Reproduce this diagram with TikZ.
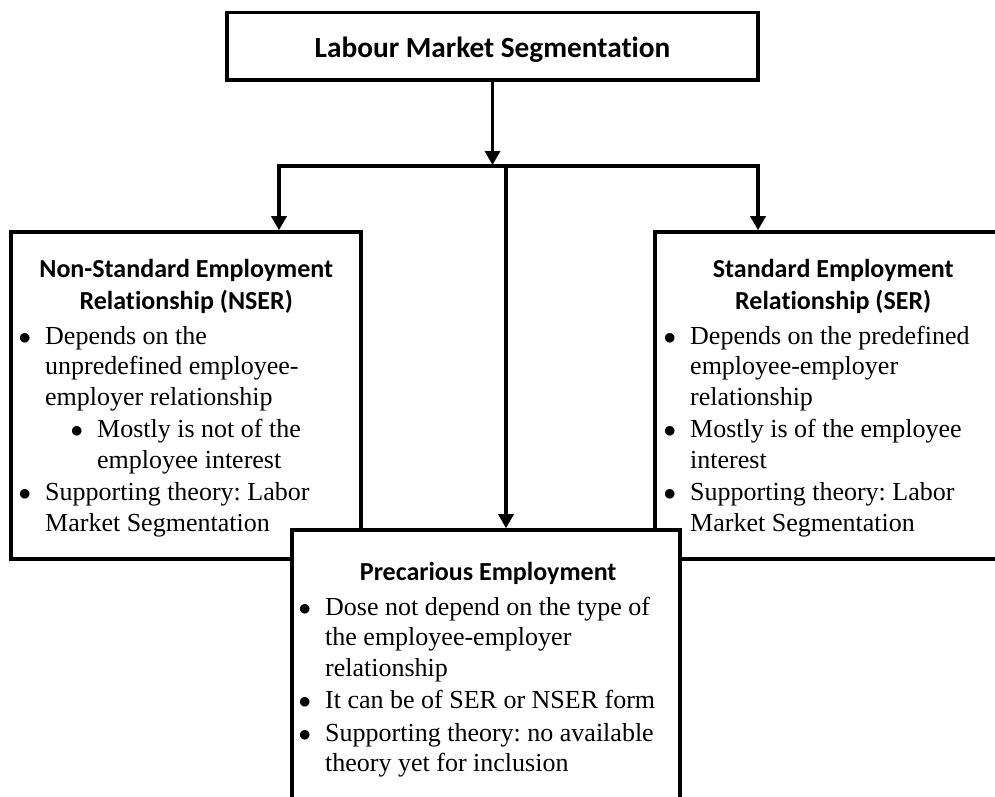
\documentclass[tikz,border=0pt]{standalone}
\usepackage{fontspec}
\setmainfont{Liberation Serif}
\newfontfamily\headfont[Ligatures=NoCommon]{Carlito}
\usetikzlibrary{arrows.meta,positioning,calc}
\frenchspacing

% Aufzaehlungspunkt mit haengendem Einzug
\newcommand{\bitem}[2][0pt]{\par\vspace{2pt}\hangindent=\dimexpr#1+24.5pt\relax\hangafter=1
  \noindent\hspace*{#1}\makebox[24.5pt][l]{\hspace{-2pt}$\bullet$}#2\par}
\newcommand{\boxtitle}[1]{{\centering\headfont\bfseries\fontsize{26}{32}\selectfont #1\par}\vspace{2.5pt}}

\begin{document}
\begin{tikzpicture}[x=1pt,y=-1pt,
  box/.style={draw,line width=3.6pt,inner sep=0pt,fill=white},
  arr/.style={line width=3.3pt,-{Triangle[width=15pt,length=14pt]}},
  conn/.style={line width=3.3pt,line cap=rect},
  bodytext/.style={anchor=base west,inner sep=0pt,align=flush left,font=\fontsize{26}{30.5}\selectfont}]
\path[use as bounding box] (0,0) rectangle (995,796);
\clip (0,0) rectangle (995,796);

%Kaesten
\node[box,minimum width=350pt,minimum height=327pt] (nser) at (186,395.5) {};
\node[box,minimum width=356pt,minimum height=327pt] (ser) at (833,395.5) {};
\node[box,minimum width=388pt,minimum height=300pt] (prec) at (486,680) {};
\node[box,minimum width=531pt,minimum height=67.3pt,text height=23.4pt,text depth=2pt,
  font=\headfont\bfseries\fontsize{29.3}{34}\selectfont] (top) at (492.5,46.3) {Labour Market Segmentation};

%Texte
\node[bodytext,text width=331pt] (nsertxt) at (20.5,277) {%
  \boxtitle{Non-Standard Employment\\Relationship (NSER)}
  \bitem{Depends on the\newline unpredefined employee-\newline employer relationship}
  \bitem[52pt]{Mostly is not of the\newline employee interest}
  \bitem{Supporting theory: Labor\newline Market Segmentation}};
\node[bodytext,text width=335pt] (sertxt) at (665.5,277) {%
  \boxtitle{Standard Employment\\Relationship (SER)}
  \bitem{Depends on the predefined\newline employee-employer\newline relationship}
  \bitem{Mostly is of the employee\newline interest}
  \bitem{Supporting theory: Labor\newline Market Segmentation}};
\node[bodytext,text width=375pt] (prectxt) at (300.5,580) {%
  \boxtitle{Precarious Employment}
  \bitem{Dose not depend on the type of\newline the employee-employer\newline relationship}
  \bitem{It can be of SER or NSER form}
  \bitem{Supporting theory: no available\newline theory yet for inclusion}};

%Verbindungen
\coordinate (hubL) at (279,166);
\coordinate (hubR) at (758,166);
\coordinate (hubM) at (506,166);
\coordinate (hub) at (top.south |- hubL);
\draw[arr,shorten >=1pt] (top) -- (hub);
\draw[conn] (hubL) -- (hubR);
\draw[arr] (hubL) -- (hubL |- nser.north);
\draw[arr] (hubR) -- (hubR |- ser.north);
\draw[arr] (hubM) -- (hubM |- prec.north);
\end{tikzpicture}
\end{document}
